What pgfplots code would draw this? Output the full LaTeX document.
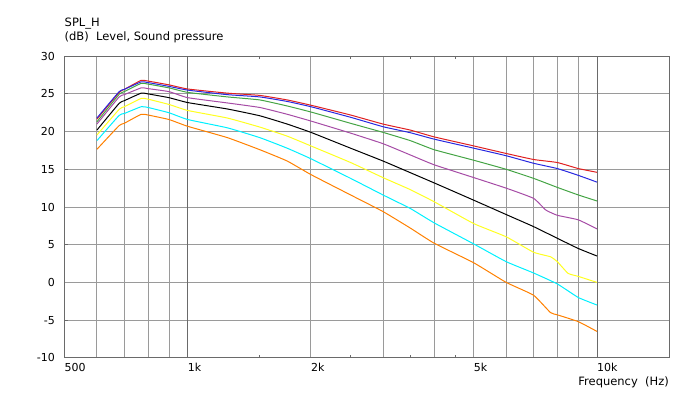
\documentclass[border=0pt]{standalone}
\usepackage{pgfplots}
\pgfplotsset{compat=1.18}
\usepackage{fontspec}
\setmainfont{DejaVu Sans}
\definecolor{gridlight}{HTML}{9A9A9A}
\definecolor{griddark}{HTML}{6A6A6A}
\definecolor{cred}{HTML}{E02020}
\definecolor{cblue}{HTML}{2828E0}
\definecolor{cgreen}{HTML}{44A444}
\definecolor{cpurple}{HTML}{A64CA6}
\definecolor{cyellow}{HTML}{FFFF20}
\definecolor{ccyan}{HTML}{00F0FF}
\definecolor{corange}{HTML}{FF8000}
\begin{document}
\begin{tikzpicture}
\fontsize{11.5bp}{13.5bp}\selectfont
\useasboundingbox (0,0) rectangle (692bp,393bp);
\node[anchor=base west, inner sep=0pt] at (64.5bp,366.5bp) {SPL\_H};
\node[anchor=base west, inner sep=0pt] at (64.5bp,352bp) {(dB)~~Level, Sound pressure};
\node[anchor=base east, inner sep=0pt] at (669bp,7.5bp) {Frequency~~(Hz)};
\begin{axis}[
  at={(64.5bp,35.2bp)}, anchor=south west,
  scale only axis, width=604.5bp, height=301.6bp,
  xmode=log, xmin=500, xmax=15000, ymin=-10, ymax=30,
  axis line style={griddark, line width=1bp},
  /pgf/number format/assume math mode=true,
  font=\fontsize{11bp}{13bp}\selectfont,
  xtick={1500,2500,3500,4500}, xticklabels={},
  major tick length=3bp, tick style={griddark, line width=0.8bp},
  xtick pos=both, tick align=inside,
  minor xtick={600,700,800,900,2000,3000,4000,5000,6000,7000,8000,9000},
  minor tick length=0pt,
  xminorgrids=true, minor x grid style={gridlight, line width=0.9bp},
  extra x ticks={500,1000,2000,5000,10000},
  extra x tick labels={500,1k,2k,5k,10k},
  extra x tick style={grid=none, major tick length=0pt,
     xticklabel style={anchor=base west, inner sep=0pt, yshift=-13.9bp}},
  ytick={-10,-5,0,5,10,15,20,25,30},
  yticklabels={-10,-5,0,5,10,15,20,25,30},
  ytick pos=left, ymajorgrids=true,
  y grid style={gridlight, line width=0.9bp},
  yticklabel style={anchor=east, inner sep=0pt, xshift=-9.5bp},
  extra y ticks={0,10,20}, extra y tick labels={},
  extra y tick style={major grid style={griddark, line width=0.9bp}, major tick length=0pt},
  clip=false,
  every axis plot/.append style={line width=1bp, no marks, smooth, tension=0.25},
]
\draw[griddark, line width=0.9bp] (axis cs:1000,-10) -- (axis cs:1000,30);
\draw[griddark, line width=0.9bp] (axis cs:10000,-10) -- (axis cs:10000,30);
% orange
\addplot[corange] coordinates {(600,17.65) (680,20.8) (700,21.1) (770,22.3) (800,22.2) (900,21.6) (1000,20.7) (1250,19.2) (1500,17.6) (1750,16.1) (2000,14.3) (2500,11.6) (3000,9.4) (3500,7.2) (4000,5.2) (5000,2.6) (6000,0.0) (7000,-1.7) (7700,-4.0) (8000,-4.3) (9000,-5.2) (10000,-6.5)};
% cyan
\addplot[ccyan] coordinates {(600,18.8) (680,22.15) (700,22.4) (770,23.3) (800,23.2) (900,22.5) (1000,21.6) (1250,20.5) (1500,19.2) (1750,17.8) (2000,16.4) (2500,13.8) (3000,11.6) (3500,9.8) (4000,7.9) (5000,5.1) (6000,2.75) (7000,1.25) (8000,-0.2) (9000,-2.0) (10000,-3.0)};
% yellow
\addplot[cyellow] coordinates {(600,19.55) (680,22.95) (700,23.3) (770,24.4) (800,24.3) (900,23.6) (1000,22.8) (1250,21.8) (1500,20.6) (1750,19.4) (2000,18.1) (2500,15.9) (3000,13.9) (3500,12.3) (4000,10.7) (5000,7.8) (6000,6.05) (7000,4.0) (7700,3.4) (8000,2.75) (8500,1.2) (9000,0.8) (10000,0.0)};
% black
\addplot[black] coordinates {(600,20.2) (680,23.75) (700,24.1) (770,25.1) (800,25.0) (900,24.5) (1000,23.85) (1250,23.0) (1500,22.1) (1750,21.0) (2000,19.9) (2500,17.8) (3000,16.1) (3500,14.55) (4000,13.2) (5000,10.9) (6000,9.0) (7000,7.4) (8000,5.85) (9000,4.5) (10000,3.5)};
% purple
\addplot[cpurple] coordinates {(600,21.0) (680,24.6) (700,24.9) (770,25.8) (800,25.7) (900,25.3) (1000,24.5) (1250,23.8) (1500,23.2) (1750,22.3) (2000,21.4) (2500,19.8) (3000,18.4) (3500,16.9) (4000,15.6) (5000,13.9) (6000,12.5) (7000,11.15) (7500,9.6) (8000,8.9) (9000,8.3) (10000,7.1)};
% green
\addplot[cgreen] coordinates {(600,21.3) (680,24.95) (700,25.3) (770,26.4) (800,26.3) (900,25.8) (1000,25.2) (1250,24.6) (1500,24.2) (1750,23.4) (2000,22.6) (2500,21.1) (3000,19.9) (3500,18.8) (4000,17.6) (5000,16.2) (6000,15.0) (7000,13.8) (8000,12.6) (9000,11.6) (10000,10.8)};
% red
\addplot[cred] coordinates {(600,21.65) (680,25.2) (700,25.6) (770,26.8) (800,26.7) (900,26.2) (1000,25.65) (1250,25.1) (1500,24.8) (1750,24.2) (2000,23.5) (2500,22.2) (3000,21.0) (3500,20.2) (4000,19.3) (5000,18.1) (6000,17.1) (7000,16.3) (8000,15.9) (9000,15.1) (10000,14.6)};
% blue
\addplot[cblue] coordinates {(600,21.8) (680,25.3) (700,25.6) (770,26.6) (800,26.5) (900,26.0) (1000,25.5) (1250,24.9) (1500,24.6) (1750,24.0) (2000,23.3) (2500,21.9) (3000,20.65) (3500,19.85) (4000,19.0) (5000,17.8) (6000,16.8) (7000,15.8) (8000,15.1) (9000,14.2) (10000,13.3)};
\end{axis}
\end{tikzpicture}
\end{document}
